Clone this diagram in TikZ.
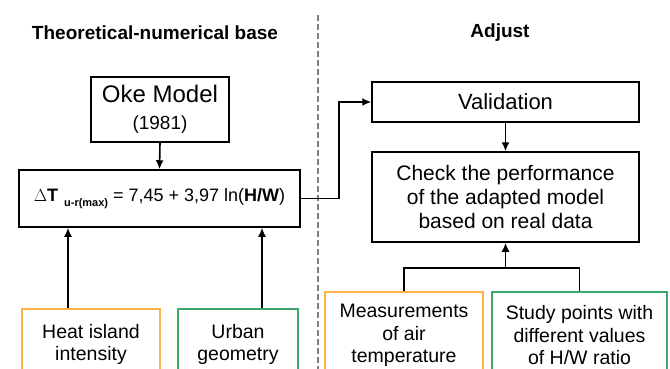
\documentclass[tikz,border=0pt]{standalone}
\usepackage{fontspec}
\setmainfont{Liberation Sans}
\usetikzlibrary{arrows.meta,calc}
\definecolor{islandorange}{RGB}{255,178,70}
\definecolor{geomgreen}{RGB}{60,168,108}
\begin{document}
\begin{tikzpicture}[x=1pt,y=-1pt,
	box/.style={draw, line width=1.5pt, align=center, inner sep=0pt},
	arr/.style={line width=1.6pt, -{Latex[length=9pt,width=8pt]}},
	link/.style={line width=1.6pt},
	heading/.style={font=\fontsize{19}{22}\selectfont\bfseries}]
	\useasboundingbox (0,0) rectangle (670,369);
	% Column headings and divider
	\node[heading] (basetitle) at (155,33) {Theoretical-numerical base};
	\node[heading] (adjusttitle) at (500,33) {Adjust};
	\draw[gray, line width=1.2pt, dash pattern=on 6pt off 3pt] (318,15) -- (318,369);
	% Left column
	\node[box, minimum width=138, minimum height=65, font=\fontsize{24}{27}\selectfont] (oke) at (160,109.5)
		{Oke Model\\{\fontsize{19}{22}\selectfont (1981)}};
	\node[box, minimum width=281, minimum height=57, font=\fontsize{18}{20}\selectfont] (formula) at (159.5,198.5)
		{$\Delta$\textbf{T}\,\,{\fontsize{11}{12}\selectfont\bfseries\raisebox{-5pt}{u-r(max)}} = 7,45 + 3,97 ln(\textbf{H/W})};
	\node[box, draw=islandorange, minimum width=138, minimum height=70, font=\fontsize{19.5}{22}\selectfont] (heat) at (91,344)
		{Heat island\\intensity};
	\node[box, draw=geomgreen, minimum width=120, minimum height=70, font=\fontsize{19.5}{22}\selectfont] (urban) at (238,344)
		{Urban\\geometry};
	\draw[arr] (oke.south) -- (formula.north);
	\draw[arr] ([xshift=-23pt]heat.north) -- ([xshift=-23pt]heat.north |- formula.south);
	\draw[arr] ([xshift=24pt]urban.north) -- ([xshift=24pt]urban.north |- formula.south);
	% Right column
	\node[box, minimum width=267, minimum height=40, font=\fontsize{22}{24}\selectfont] (validation) at (505.5,102)
		{Validation};
	\node[box, minimum width=267, minimum height=90, font=\fontsize{21}{24}\selectfont] (check) at (505.5,197)
		{Check the performance\\of the adapted model\\based on real data};
	\node[box, draw=islandorange, minimum width=158, minimum height=87, font=\fontsize{19.5}{22.5}\selectfont] (measure) at (404,335.5)
		{Measurements\\of air\\temperature};
	\node[box, draw=geomgreen, minimum width=175, minimum height=87, font=\fontsize{19.5}{22.5}\selectfont] (study) at (579.5,335.5)
		{Study points with\\different values\\of H/W ratio};
	\draw[arr] (formula.east) -- ++(38,0) |- (validation.west);
	\draw[arr] (validation.south) -- (check.north);
	\coordinate (join) at ($(check.south)+(0,25)$);
	\draw[link] (measure.north) |- (join) -| (study.north);
	\draw[arr] (join) -- (check.south);
\end{tikzpicture}
\end{document}
